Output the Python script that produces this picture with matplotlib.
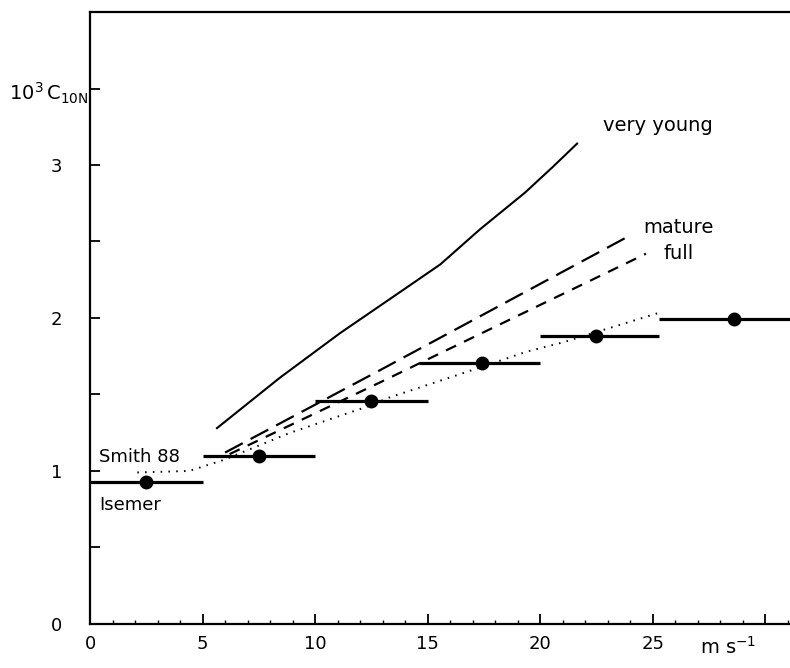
import matplotlib.pyplot as plt

# binned observations: wind speed bins and mean drag coefficient (x 10^3)
bin_left = [0, 5, 10, 14.6, 20, 25.3]
bin_right = [5, 10, 15, 20, 25.3, 31.5]
bin_centre = [2.5, 7.5, 12.5, 17.4, 22.5, 28.6]
bin_cd = [0.93, 1.10, 1.46, 1.705, 1.88, 1.99]

# wave-age dependent curves
young_u = [5.64, 8.44, 11.1, 13.78, 15.56, 17.33, 19.33, 20.58, 21.64]
young_cd = [1.28, 1.61, 1.90, 2.17, 2.35, 2.58, 2.82, 2.99, 3.14]

mature_u = [6.0, 12.9, 24.0]
mature_cd = [1.12, 1.66, 2.54]

full_u = [6.2, 12.9, 24.7]
full_cd = [1.11, 1.58, 2.42]

smith_u = [2.1, 4.4, 5.9, 8.9, 12.3, 13.3, 17.2, 19.4, 21.0, 25.2]
smith_cd = [0.99, 1.00, 1.07, 1.25, 1.42, 1.48, 1.67, 1.78, 1.84, 2.03]

x_ticks = [0, 5, 10, 15, 20, 25, 30]
x_labels = ['0', '5', '10', '15', '20', '25', '']
y_ticks = [0, 0.5, 1, 1.5, 2, 2.5, 3, 3.5]
y_labels = ['0', '', '1', '', '2', '', '3', '']


def main():
    fig = plt.figure(figsize=(7.9, 6.68), dpi=100)
    ax = fig.add_axes([0.114, 0.066, 0.886, 0.916])

    ax.hlines(bin_cd, bin_left, bin_right, color='black', lw=2.3)
    ax.plot(bin_centre, bin_cd, 'o', color='black', ms=9)

    ax.plot(young_u, young_cd, '-', color='black', lw=1.5)
    ax.plot(mature_u, mature_cd, color='black', lw=1.6, dashes=(9, 4))
    ax.plot(full_u, full_cd, color='black', lw=1.6, dashes=(5, 4))
    ax.plot(smith_u, smith_cd, color='black', lw=1.4, dashes=(0.8, 3.2))

    fs = 14
    ax.text(22.8, 3.26, 'very young', fontsize=fs, va='center')
    ax.text(24.6, 2.59, 'mature', fontsize=fs, va='center')
    ax.text(25.5, 2.42, 'full', fontsize=fs, va='center')
    ax.text(0.4, 1.09, 'Smith 88', fontsize=fs - 1, va='center')
    ax.text(0.4, 0.78, 'Isemer', fontsize=fs - 1, va='center')

    ax.set_xlim(0, 31.1)
    ax.set_ylim(0, 4.0)
    ax.set_xticks(x_ticks)
    ax.set_xticklabels(x_labels, fontsize=13)
    ax.set_xticks(range(0, 32), minor=True)
    ax.set_yticks(y_ticks)
    ax.set_yticklabels(y_labels, fontsize=13)

    ax.tick_params(axis='both', which='major', direction='in', length=7,
                   width=1.3)
    ax.tick_params(axis='x', which='minor', direction='in', length=3,
                   width=1.0)
    ax.tick_params(axis='y', which='major', pad=20)
    ax.tick_params(axis='x', which='major', pad=8)

    ax.spines['right'].set_visible(False)
    for side in ['left', 'bottom', 'top']:
        ax.spines[side].set_linewidth(1.6)

    ax.text(27.1, -0.08, r'm s$^{-1}$', fontsize=14, va='top')
    fig.text(0.012, 0.85, r'$10^{3}\,\mathrm{C}_{\mathrm{10N}}$', fontsize=14)

    fig.savefig('out.png', dpi=100)


if __name__ == "__main__":
    main()
